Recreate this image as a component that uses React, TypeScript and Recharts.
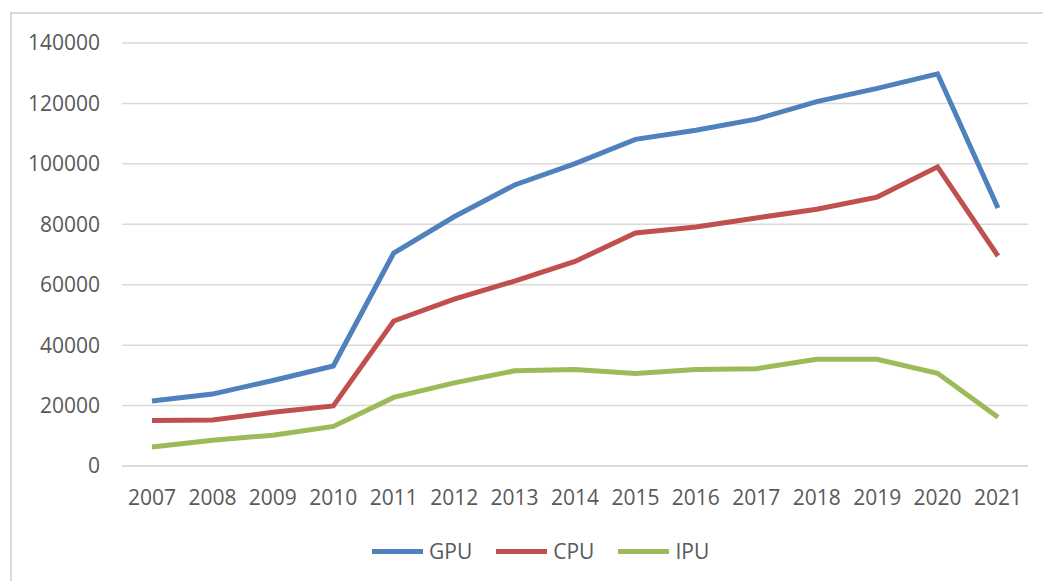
import { CartesianGrid, Line, LineChart, XAxis, YAxis } from 'recharts';

const years = ['2007', '2008', '2009', '2010', '2011', '2012', '2013', '2014', '2015', '2016', '2017', '2018', '2019', '2020', '2021'];
const gpu = [21500, 23800, 28300, 33100, 70500, 82500, 93000, 100100, 108100, 111100, 114800, 120600, 125000, 129800, 85400];
const cpu = [15100, 15200, 17800, 19900, 48000, 55200, 61200, 67700, 77100, 79100, 82100, 85000, 89000, 99000, 69500];
const ipu = [6300, 8500, 10200, 13100, 22700, 27500, 31500, 31900, 30600, 31900, 32200, 35300, 35300, 30700, 16100];
const yTicks = [0, 20000, 40000, 60000, 80000, 100000, 120000, 140000];

const series = [
  { key: 'GPU', color: '#4f81bd' },
  { key: 'CPU', color: '#c0504d' },
  { key: 'IPU', color: '#9bbb59' },
];

const data = years.map((y, i) => ({ year: y, GPU: gpu[i], CPU: cpu[i], IPU: ipu[i] }));

const font = '"Open Sans", sans-serif';
const textColor = '#595959';
const fontSize = 21;

function LegendRow() {
  return (
    <div
      style={{
        position: 'absolute',
        left: 372,
        top: 537,
        display: 'flex',
        alignItems: 'center',
        fontFamily: font,
        fontSize,
        color: textColor,
        lineHeight: '28px',
      }}
    >
      {series.map((s, i) => (
        <div key={s.key} style={{ display: 'flex', alignItems: 'center', marginLeft: i ? 24 : 0 }}>
          <div style={{ width: 51, height: 5, background: s.color, marginRight: 6 }} />
          <span>{s.key}</span>
        </div>
      ))}
    </div>
  );
}

export default function App() {
  return (
    <div style={{ position: 'absolute', left: 0, top: 0, width: 1043, height: 581, background: '#fff', overflow: 'hidden' }}>
      <div
        style={{
          position: 'absolute',
          left: 10,
          top: 12,
          width: 1040,
          height: 575,
          borderTop: '2px solid #d9d9d9',
          borderLeft: '2px solid #d9d9d9',
        }}
      />
      <LineChart width={1043} height={581} data={data} margin={{ top: 43, right: 15, left: 22, bottom: 65 }}>
        <CartesianGrid vertical={false} stroke="#d9d9d9" strokeWidth={1.5} />
        <XAxis
          dataKey="year"
          padding={{ left: 30, right: 30 }}
          height={50}
          tickLine={false}
          tickSize={0}
          tickMargin={24}
          axisLine={{ stroke: '#d9d9d9', strokeWidth: 1.5 }}
          tick={{ fill: textColor, fontSize, fontFamily: font }}
          interval={0}
        />
        <YAxis
          width={100}
          domain={[0, 140000]}
          ticks={yTicks}
          axisLine={false}
          tickLine={false}
          tickSize={0}
          tickMargin={22}
          tick={{ fill: textColor, fontSize, fontFamily: font }}
        />
        {series.map((s) => (
          <Line
            key={s.key}
            type="linear"
            dataKey={s.key}
            stroke={s.color}
            strokeWidth={5}
            dot={false}
            activeDot={false}
            isAnimationActive={false}
          />
        ))}
      </LineChart>
      <LegendRow />
    </div>
  );
}
